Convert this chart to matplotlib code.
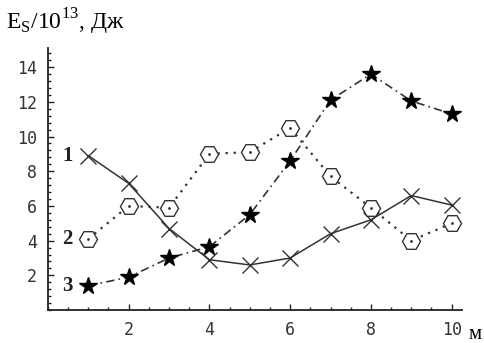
import matplotlib
matplotlib.use("Agg")
import matplotlib.pyplot as plt
from matplotlib.ticker import MultipleLocator

# Data -------------------------------------------------------------------
x = [1, 2, 3, 4, 5, 6, 7, 8, 9, 10]
curve_1 = [8.9, 7.3, 4.7, 2.9, 2.6, 3.0, 4.4, 5.2, 6.6, 6.05]
curve_2 = [4.1, 6.0, 5.9, 9.0, 9.1, 10.5, 7.7, 5.9, 4.0, 5.0]
curve_3 = [1.4, 1.9, 3.0, 3.65, 5.5, 8.6, 12.1, 13.6, 12.05, 11.3]
curve_names = ["1", "2", "3"]
x_ticks = [2, 4, 6, 8, 10]
y_ticks = [2, 4, 6, 8, 10, 12, 14]


def main():
    fig = plt.figure(figsize=(4.84, 3.43), dpi=100)
    ax = fig.add_axes([0.099, 0.096, 0.855, 0.764])

    ax.plot(x, curve_1, color="#333333", lw=1.1, ls="-",
            marker="x", ms=11, mew=1.0, mec="#333333", zorder=3)
    ax.plot(x, curve_2, color="#333333", lw=1.6, ls=(0, (1, 2.6)),
            marker="H", ms=13, mfc="white", mec="#333333", mew=1.0, zorder=3)
    ax.plot(x, curve_2, ls="none", marker=".", ms=2, color="#333333", zorder=4)
    ax.plot(x, curve_3, color="#333333", lw=1.2, ls=(0, (5, 2.5, 1, 2.5)),
            marker="*", ms=13, mfc="black", mec="black", zorder=3)

    # curve numbers next to the first points
    for name, series in zip(curve_names, [curve_1, curve_2, curve_3]):
        ax.text(0.62, series[0], name, family="Liberation Serif", fontsize=15,
                fontweight="bold", ha="right", va="center", color="#222222")

    ax.set_xlim(0, 10.25)
    ax.set_ylim(0, 15.1)
    ax.set_xticks(x_ticks)
    ax.set_yticks(y_ticks)
    ax.xaxis.set_minor_locator(MultipleLocator(0.5))
    ax.yaxis.set_minor_locator(MultipleLocator(0.4))
    ax.tick_params(which="both", direction="in", color="#222222", width=1.0)
    ax.tick_params(which="major", length=4, labelsize=12, pad=8)
    ax.tick_params(which="minor", length=2.5)
    for lab in ax.get_xticklabels() + ax.get_yticklabels():
        lab.set_family("DejaVu Sans Mono")
        lab.set_color("#333333")

    for side in ["top", "right"]:
        ax.spines[side].set_visible(False)
    for side in ["left", "bottom"]:
        ax.spines[side].set_linewidth(1.3)
        ax.spines[side].set_color("#222222")

    fig.text(0.012, 0.935, r"E$_\mathregular{S}$/10$^\mathregular{13}$, Дж",
             family="Liberation Serif", fontsize=17, ha="left", va="center")
    fig.text(0.995, 0.025, "м", family="Liberation Serif", fontsize=15,
             ha="right", va="center")

    fig.savefig("out.png", dpi=100)


if __name__ == "__main__":
    main()
